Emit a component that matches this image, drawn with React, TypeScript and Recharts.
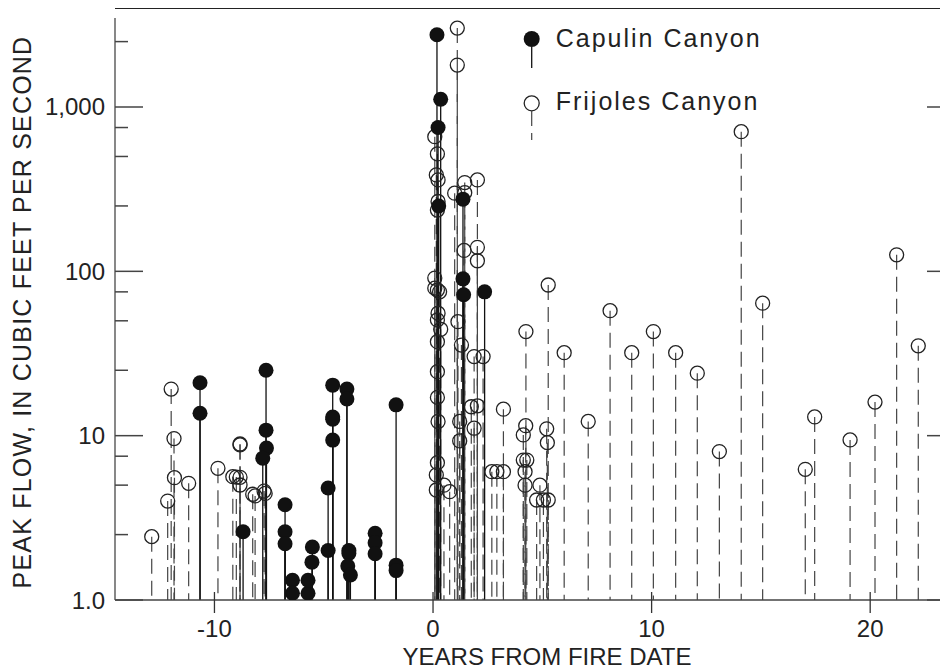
import React from "react";
import { ScatterChart, Scatter, XAxis, YAxis, ReferenceLine, Label } from "recharts";

// peak flows vs. years from fire date
const CAPULIN_YEARS = [
  -10.66, -10.66, -8.69, -7.64, -7.64, -7.62, -7.79, -6.77, -6.77, -6.77, -6.43, -6.43,
  -5.72, -5.72, -5.54, -5.52, -4.8, -4.8, -4.59, -4.59, -4.59, -4.59, -3.94, -3.94,
  -3.85, -3.85, -3.9, -3.78, -2.65, -2.65, -2.65, -1.69, -1.69, -1.69,
  0.18, 0.35, 0.23, 0.26, 1.37, 1.37, 1.4, 2.36,
];
const CAPULIN_FLOWS = [
  21, 13.7, 2.6, 25, 10.8, 8.4, 7.3, 3.8, 2.6, 2.2, 1.32, 1.1,
  1.1, 1.32, 1.7, 2.1, 4.8, 2.0, 20.3, 13.0, 12.6, 9.4, 19.2, 16.7,
  2.0, 1.92, 1.61, 1.42, 2.55, 2.23, 1.91, 15.4, 1.63, 1.51,
  2750, 1115, 750, 250, 275, 90, 72, 75,
];

const FRIJOLES_YEARS = [
  -12.87, -11.98, -12.14, -11.85, -11.83, -11.18, -9.84, -9.16, -9.0, -8.83, -8.83, -8.83,
  -8.83, -8.25, -8.14, -7.73, -7.68,
  1.11, 1.11, 0.08, 0.2, 0.15, 0.23, 0.23, 0.2, 0.08, 0.08, 0.2, 0.3, 0.23, 0.2, 0.35,
  0.2, 0.2, 0.2, 0.23, 0.2, 0.15, 0.15, 0.5, 0.76, 1.45, 0.99, 1.45, 2.03, 1.42, 2.03,
  2.03, 1.14, 1.3, 1.22, 1.22, 1.88, 2.29, 1.75, 2.03, 1.88, 2.69, 2.92, 3.22, 3.22,
  4.24, 4.13, 4.13, 4.29, 4.21, 4.21, 4.89, 4.74, 5.05, 5.27, 5.2, 5.23, 4.25, 6.0, 5.27,
  7.1, 8.1, 9.09, 10.08, 11.1, 12.09, 13.1, 14.1, 15.08, 17.03, 17.46, 19.08, 20.22,
  21.21, 22.2,
];
const FRIJOLES_FLOWS = [
  2.43, 19.2, 4.0, 9.6, 5.55, 5.13, 6.33, 5.63, 5.6, 8.78, 8.9, 5.58,
  5.01, 4.4, 4.3, 4.6, 4.45,
  3020, 1800, 660, 518, 386, 360, 266, 236, 91, 79, 77, 75, 55.6, 50.6, 44.4,
  37.3, 24.5, 17.1, 12.2, 6.85, 5.77, 4.67, 5.0, 4.56, 347, 299, 301, 360, 134, 140,
  116, 49.4, 35.6, 12.2, 9.29, 30.3, 30.3, 15.0, 15.2, 11.1, 6.04, 6.04, 6.04, 14.5,
  11.5, 10.1, 7.1, 7.1, 6.04, 5.0, 5.0, 4.06, 4.06, 4.06, 11.0, 9.07, 43, 32, 82.6,
  12.2, 57.6, 32, 43, 32, 24, 8.0, 708, 64, 6.24, 13.0, 9.42, 16.0,
  126, 35.2,
];

const X_TICKS = [-10, 0, 10, 20];
const Y_TICKS = [1, 2.5, 5, 7.5, 10, 25, 50, 75, 100, 250, 500, 750, 1000, 2500];
const Y_LABELS: Record<number, string> = { 1: "1.0", 10: "10", 100: "100", 1000: "1,000" };

const capulin = CAPULIN_YEARS.map((year, i) => ({ year, flow: CAPULIN_FLOWS[i] }));
const frijoles = FRIJOLES_YEARS.map((year, i) => ({ year, flow: FRIJOLES_FLOWS[i] }));

const FONT = "'Liberation Sans', Arial, Helvetica, sans-serif";
const INK = "#222";

const LeftTick = (props: any) => {
  const { x, y, payload } = props;
  const major = payload.value in Y_LABELS;
  const ax = x + 10;
  return (
    <g>
      <line x1={ax} x2={ax + (major ? 28 : 13)} y1={y} y2={y} stroke="#444" strokeWidth={1.5} />
      {major && (
        <text x={x} y={y + 8.5} textAnchor="end" fontSize={24} fill={INK} fontFamily={FONT}>
          {Y_LABELS[payload.value]}
        </text>
      )}
    </g>
  );
};

const RightTick = (props: any) => {
  const { x, y, payload } = props;
  const major = payload.value in Y_LABELS;
  const ax = x - 10;
  return <line x1={ax} x2={ax - (major ? 28 : 13)} y1={y} y2={y} stroke="#444" strokeWidth={1.5} />;
};

const BottomTick = (props: any) => {
  const { x, y, payload } = props;
  return (
    <g>
      <line x1={x} x2={x} y1={y - 8} y2={y + 13} stroke="#333" strokeWidth={1.3} />
      <text x={x} y={y + 37} textAnchor="middle" fontSize={24} fill={INK} fontFamily={FONT}>
        {payload.value}
      </text>
    </g>
  );
};

const FilledDot = (p: any) => <circle cx={p.cx} cy={p.cy} r={7.5} fill="#111" />;
const OpenDot = (p: any) => (
  <circle cx={p.cx} cy={p.cy} r={7} fill="none" stroke={INK} strokeWidth={1.3} />
);

const App = () => {
  return (
    <div style={{ position: "relative", width: 940, height: 663, overflow: "hidden", background: "#fff" }}>
      <div style={{ position: "absolute", left: 107, top: 0, width: 840, borderTop: "1.7px solid #222" }} />
      <ScatterChart width={960} height={663} margin={{ top: 10, right: 0, bottom: 0, left: 0 }}>
        <XAxis
          type="number"
          dataKey="year"
          domain={[-14.55, 23.88]}
          allowDataOverflow
          ticks={X_TICKS}
          interval={0}
          height={71}
          tickSize={0}
          tickMargin={0}
          tickLine={false}
          tick={<BottomTick />}
          axisLine={{ stroke: "#444", strokeWidth: 1.5 }}
        >
          <Label
            content={() => (
              <text x={539} y={657} textAnchor="middle" fontSize={24} fill={INK} fontFamily={FONT}>
                YEARS FROM FIRE DATE
              </text>
            )}
          />
        </XAxis>
        <YAxis
          yAxisId="l"
          type="number"
          dataKey="flow"
          scale="log"
          domain={[1, 3480]}
          allowDataOverflow
          ticks={Y_TICKS}
          interval={0}
          width={107}
          tickSize={0}
          tickMargin={10}
          tickLine={false}
          tick={<LeftTick />}
          axisLine={{ stroke: "#555", strokeWidth: 1.4 }}
        >
          <Label
            content={() => (
              <text
                x={23}
                y={304}
                transform="rotate(-90 23 304)"
                textAnchor="middle"
                fontSize={25}
                letterSpacing={1.2}
                fill={INK}
                fontFamily={FONT}
              >
                PEAK FLOW, IN CUBIC FEET PER SECOND
              </text>
            )}
          />
        </YAxis>
        <YAxis
          yAxisId="r"
          orientation="right"
          type="number"
          scale="log"
          domain={[1, 3480]}
          allowDataOverflow
          ticks={Y_TICKS}
          interval={0}
          width={13}
          tickSize={0}
          tickMargin={10}
          tickLine={false}
          tick={<RightTick />}
          axisLine={{ stroke: "#555", strokeWidth: 1.4 }}
        />
        {frijoles.map((d, i) => (
          <ReferenceLine
            key={`f${i}`}
            yAxisId="l"
            segment={[{ x: d.year, y: d.flow }, { x: d.year, y: 1 }]}
            stroke="#444"
            strokeWidth={1.2}
            strokeDasharray="15 7"
          />
        ))}
        {capulin.map((d, i) => (
          <ReferenceLine
            key={`c${i}`}
            yAxisId="l"
            segment={[{ x: d.year, y: d.flow }, { x: d.year, y: 1 }]}
            stroke="#111"
            strokeWidth={1.3}
          />
        ))}
        <Scatter name="Frijoles Canyon" yAxisId="l" data={frijoles} shape={OpenDot} isAnimationActive={false} />
        <Scatter name="Capulin Canyon" yAxisId="l" data={capulin} shape={FilledDot} isAnimationActive={false} />
      </ScatterChart>
      <svg width={300} height={140} style={{ position: "absolute", left: 500, top: 0 }}>
        <circle cx={23.7} cy={31} r={8} fill="#111" />
        <line x1={23.7} x2={23.7} y1={39} y2={60} stroke="#111" strokeWidth={1.3} />
        <text x={47.7} y={39} fontSize={25} letterSpacing={2} fill={INK} fontFamily={FONT}>
          Capulin Canyon
        </text>
        <circle cx={23.7} cy={95.3} r={7.5} fill="none" stroke={INK} strokeWidth={1.3} />
        <line x1={23.7} x2={23.7} y1={103} y2={132} stroke="#444" strokeWidth={1.2} strokeDasharray="15 7" />
        <text x={47.7} y={102} fontSize={25} letterSpacing={2} fill={INK} fontFamily={FONT}>
          Frijoles Canyon
        </text>
      </svg>
    </div>
  );
};

export default App;
